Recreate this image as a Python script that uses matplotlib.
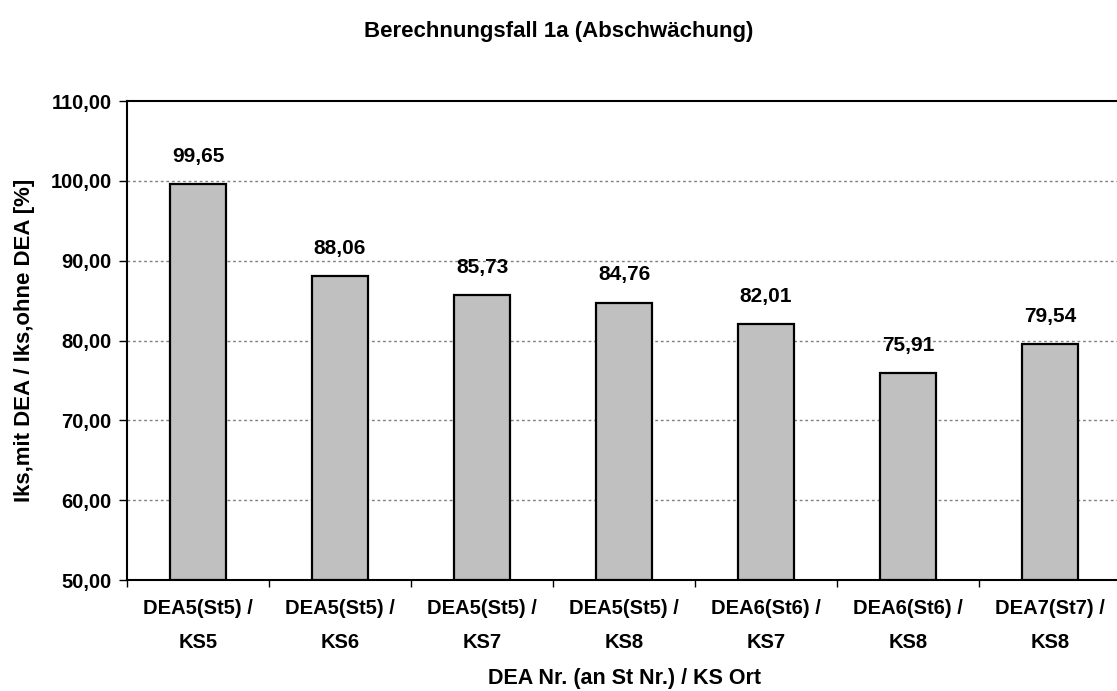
import matplotlib
matplotlib.use("Agg")
import matplotlib.pyplot as plt
import numpy as np

categories = ["DEA5(St5) /\nKS5", "DEA5(St5) /\nKS6", "DEA5(St5) /\nKS7", "DEA5(St5) /\nKS8",
              "DEA6(St6) /\nKS7", "DEA6(St6) /\nKS8", "DEA7(St7) /\nKS8"]
values = [99.65, 88.06, 85.73, 84.76, 82.01, 75.91, 79.54]
y_ticks = [50, 60, 70, 80, 90, 100, 110]

plt.rcParams['font.family'] = ['Liberation Sans', 'DejaVu Sans']
plt.rcParams['font.weight'] = 'bold'

fig = plt.figure(figsize=(11.17, 6.91), dpi=100)
ax = fig.add_axes([0.1137, 0.1606, 0.8899, 0.6932])

x = np.arange(len(values))
ax.bar(x, [v - 50 for v in values], bottom=50, width=0.4, color='#c0c0c0',
       edgecolor='black', linewidth=1.6, zorder=3)

for xi, v in zip(x, values):
    ax.annotate(f"{v:.2f}".replace('.', ','), (xi, v), xytext=(0, 13),
                textcoords='offset points', ha='center', va='bottom',
                fontsize=15, fontweight='bold')

ax.set_xlim(-0.5, len(values) - 0.5)
ax.set_ylim(50, 110)
ax.set_yticks(y_ticks)
ax.set_yticklabels([f"{t:.2f}".replace('.', ',') for t in y_ticks], fontsize=14.5, fontweight='bold')

ax.set_xticks(x)
ax.set_xticklabels(categories, fontsize=14.5, fontweight='bold', linespacing=1.95)
ax.set_xticks(np.arange(-0.5, len(values) + 0.5, 1), minor=True)
ax.tick_params(axis='x', which='major', length=0, pad=14)
ax.tick_params(axis='x', which='minor', length=5, width=1, direction='out')
ax.tick_params(axis='y', length=6, width=1, direction='out', pad=5)

for t in y_ticks[1:-1]:
    ax.axhline(t, color='#808080', linestyle=(0, (2, 2)), linewidth=1, zorder=1)

for side in ['top', 'left', 'bottom']:
    ax.spines[side].set_linewidth(1.5)
    ax.spines[side].set_color('black')
ax.spines['right'].set_visible(False)

ax.set_ylabel("Iks,mit DEA / Iks,ohne DEA [%]", fontsize=16, fontweight='bold', labelpad=11)
ax.set_xlabel("DEA Nr. (an St Nr.) / KS Ort", fontsize=15.5, fontweight='bold', labelpad=12)
fig.text(0.5, 0.955, "Berechnungsfall 1a (Abschwächung)", ha='center', va='center',
         fontsize=16, fontweight='bold')

fig.savefig("out.png", dpi=100)
